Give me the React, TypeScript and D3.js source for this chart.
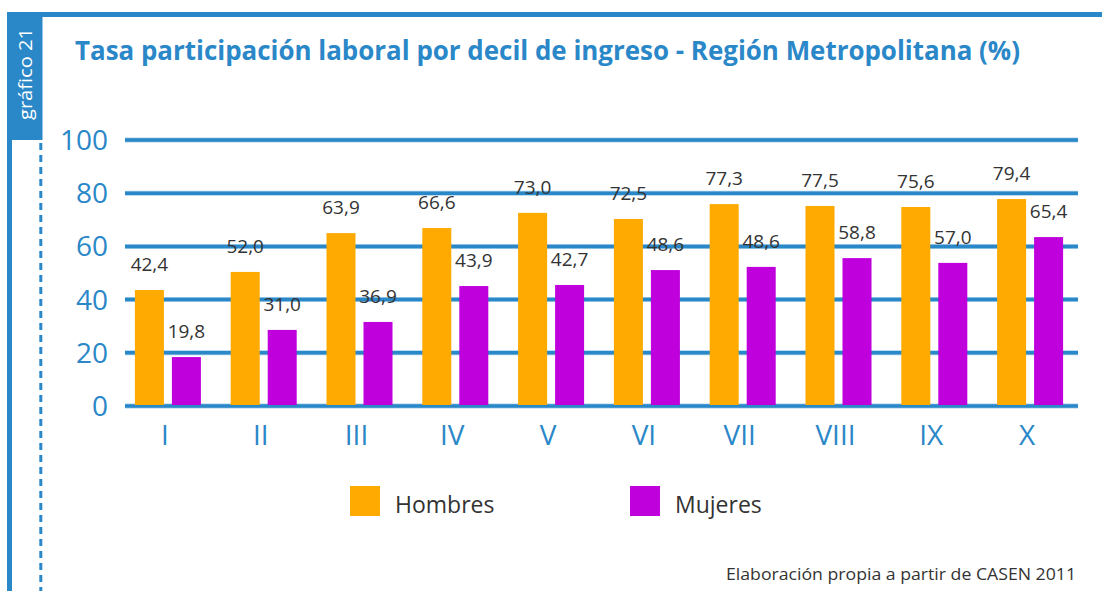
import React from "react";
import * as d3 from "d3";

// ---- data ----
const deciles = ["I", "II", "III", "IV", "V", "VI", "VII", "VIII", "IX", "X"];
const seriesNames = ["Hombres", "Mujeres"];
// bar heights as drawn in the reference
const hombresBar = [43.6, 50.4, 65.0, 66.9, 72.6, 70.3, 75.9, 75.2, 74.8, 77.8];
const mujeresBar = [18.4, 28.6, 31.6, 45.1, 45.5, 51.1, 52.3, 55.6, 53.8, 63.5];
// printed value labels
const hombresLabel = [42.4, 52.0, 63.9, 66.6, 73.0, 72.5, 77.3, 77.5, 75.6, 79.4];
const mujeresLabel = [19.8, 31.0, 36.9, 43.9, 42.7, 48.6, 48.6, 58.8, 57.0, 65.4];
const yTicks = [0, 20, 40, 60, 80, 100];

const title = "Tasa participación laboral por decil de ingreso - Región Metropolitana (%)";
const sideLabel = "gráfico 21";
const source = "Elaboración propia a partir de CASEN 2011";

const W = 1102;
const H = 591;
const BLUE = "#2a87c8";
const ORANGE = "#ffaa00";
const PURPLE = "#bf00dc";
const TEXT = "#333333";
const FONT = "'Open Sans', 'Noto Sans', sans-serif";

export default function App() {
  const x = d3.scaleBand<string>().domain(deciles).range([120, 1078]).paddingInner(0.311).paddingOuter(0.1555);
  const xs = d3.scaleBand<string>().domain(seriesNames).range([0, x.bandwidth()]).paddingInner(0.216).paddingOuter(0);
  const y = d3.scaleLinear().domain([0, 100]).range([406, 140]);
  const fmt = (v: number) => d3.format(".1f")(v).replace(".", ",");
  const colors = [ORANGE, PURPLE];
  const bars = [hombresBar, mujeresBar];
  const labels = [hombresLabel, mujeresLabel];

  return (
    <svg width={W} height={H} style={{ position: "absolute", left: 0, top: 0, background: "#fff" }} fontFamily={FONT}>
      {/* frame */}
      <rect x={7} y={12} width={W - 7} height={5} fill={BLUE} />
      <rect x={7} y={12} width={5} height={H - 12} fill={BLUE} />
      <rect x={7} y={12} width={35.5} height={128} fill={BLUE} />
      <line x1={40.8} x2={40.8} y1={143} y2={H} stroke={BLUE} strokeWidth={3} strokeDasharray="7 5" />
      <text
        transform="translate(31.5,74) rotate(-90)"
        textAnchor="middle"
        fill="#fff"
        fontSize={19}
        textLength={92}
        lengthAdjust="spacingAndGlyphs"
      >
        {sideLabel}
      </text>

      {/* title */}
      <text x={75} y={60} fill={BLUE} fontSize={26} fontWeight="bold" textLength={945} lengthAdjust="spacingAndGlyphs">
        {title}
      </text>

      {/* grid + y labels */}
      {yTicks.map((t) => (
        <g key={t}>
          <line x1={125} x2={1078} y1={y(t)} y2={y(t)} stroke="#a9d0ec" strokeWidth={5} />
          <line x1={125} x2={1078} y1={y(t)} y2={y(t)} stroke={BLUE} strokeWidth={3.5} />
          <text x={108} y={y(t) + 10} textAnchor="end" fill={BLUE} fontSize={28}>
            {t}
          </text>
        </g>
      ))}

      {/* bars */}
      {deciles.map((d, i) => (
        <g key={d}>
          {seriesNames.map((s, j) => (
            <rect
              key={s}
              x={(x(d) as number) + (xs(s) as number)}
              y={y(bars[j][i])}
              width={xs.bandwidth()}
              height={y(0) - y(bars[j][i]) - 1}
              fill={colors[j]}
            />
          ))}
          {seriesNames.map((s, j) => (
            <text
              key={s + "l"}
              x={(x(d) as number) + (xs(s) as number) + xs.bandwidth() / 2}
              y={y(bars[j][i]) - 19}
              textAnchor="middle"
              fill={TEXT}
              fontSize={19}
            >
              {fmt(labels[j][i])}
            </text>
          ))}
          <text x={(x(d) as number) + x.bandwidth() / 2 - 3} y={445} textAnchor="middle" fill={BLUE} fontSize={28}>
            {d}
          </text>
        </g>
      ))}

      {/* legend */}
      {seriesNames.map((s, j) => (
        <g key={s} transform={`translate(${350 + j * 280},486)`}>
          <rect x={0} y={0} width={30} height={30} fill={colors[j]} />
          <text x={45} y={27} fill={TEXT} fontSize={23}>
            {s}
          </text>
        </g>
      ))}

      {/* source */}
      <text x={1076} y={580} textAnchor="end" fill={TEXT} fontSize={16} textLength={350} lengthAdjust="spacingAndGlyphs">
        {source}
      </text>
    </svg>
  );
}
